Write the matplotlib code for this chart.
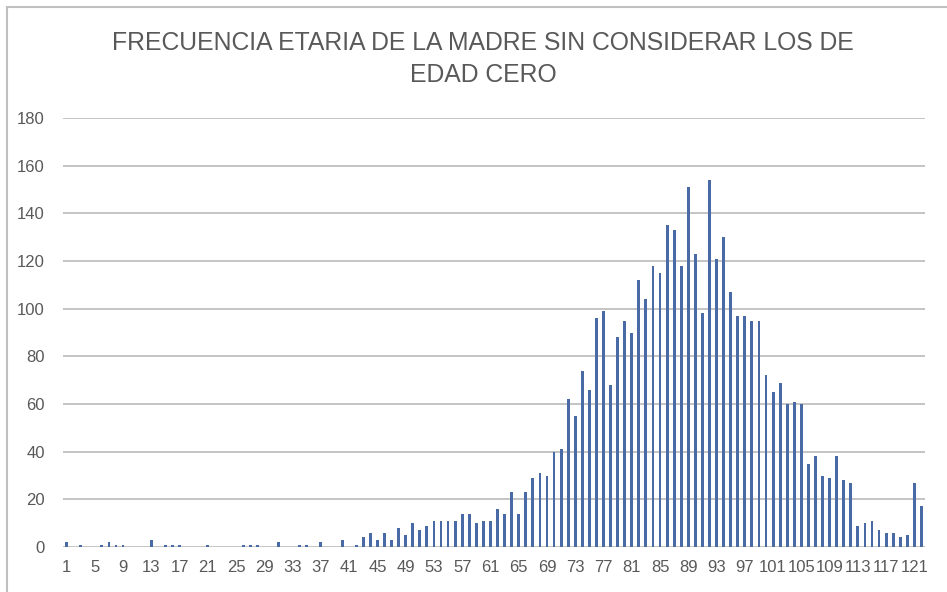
import matplotlib
matplotlib.use("Agg")
import matplotlib.pyplot as plt
from matplotlib.patches import Rectangle

# edad de la madre (1..122) y frecuencia
edades = list(range(1, 123))
frec = {
    1: 2, 3: 1, 6: 1, 7: 2, 8: 1, 9: 1, 13: 3, 15: 1, 16: 1, 17: 1,
    21: 1, 26: 1, 27: 1, 28: 1, 31: 2, 34: 1, 35: 1, 37: 2, 40: 3, 42: 1,
    43: 4, 44: 6, 45: 3, 46: 6, 47: 3, 48: 8, 49: 5, 50: 10, 51: 7, 52: 9,
    53: 11, 54: 11, 55: 11, 56: 11, 57: 14, 58: 14, 59: 10, 60: 11, 61: 11,
    62: 16, 63: 14, 64: 23, 65: 14, 66: 23, 67: 29, 68: 31, 69: 30, 70: 40,
    71: 41, 72: 62, 73: 55, 74: 74, 75: 66, 76: 96, 77: 99, 78: 68, 79: 88,
    80: 95, 81: 90, 82: 112, 83: 104, 84: 118, 85: 115, 86: 135, 87: 133,
    88: 118, 89: 151, 90: 123, 91: 98, 92: 154, 93: 121, 94: 130, 95: 107,
    96: 97, 97: 97, 98: 95, 99: 95, 100: 72, 101: 65, 102: 69, 103: 60,
    104: 61, 105: 60, 106: 35, 107: 38, 108: 30, 109: 29, 110: 38, 111: 28,
    112: 27, 113: 9, 114: 10, 115: 11, 116: 7, 117: 6, 118: 6, 119: 4,
    120: 5, 121: 27, 122: 17,
}
valores = [frec.get(e, 0) for e in edades]
ticks = list(range(1, 122, 4))
yticks = list(range(0, 181, 20))

font = ["Liberation Sans", "DejaVu Sans"]
gris = "#595959"

fig = plt.figure(figsize=(9.47, 5.92), dpi=100)
ax = fig.add_axes([63 / 947, 1 - 547 / 592, (925 - 63) / 947, (547 - 118) / 592])

ax.bar(edades, valores, width=0.4, color="#4a6aa5", zorder=3)
ax.set_xlim(0.5, 122.5)
ax.set_ylim(0, 180)
ax.set_yticks(yticks)
ax.set_xticks(ticks)
ax.set_xticklabels([str(t) for t in ticks])
ax.grid(axis="y", color="#bfbfbf", linewidth=1.3, zorder=0)
for s in ax.spines.values():
    s.set_visible(False)
ax.tick_params(length=0, colors=gris, labelsize=12)
ax.tick_params(axis="x", pad=9)
ax.tick_params(axis="y", pad=13)
for lab in ax.get_xticklabels() + ax.get_yticklabels():
    lab.set_family(font)

fig.text(483 / 947, 1 - 59 / 592, "FRECUENCIA ETARIA DE LA MADRE SIN CONSIDERAR LOS DE\nEDAD CERO",
         ha="center", va="center", fontsize=17.8, color=gris, family=font,
         linespacing=1.4)

# marco del grafico
fig.patches.append(Rectangle((7 / 947, -0.01), 1.0, 1 - 6.5 / 592 + 0.01, transform=fig.transFigure,
                             fill=False, edgecolor="#bfbfbf", linewidth=1.5))

fig.savefig("out.png", dpi=100)
